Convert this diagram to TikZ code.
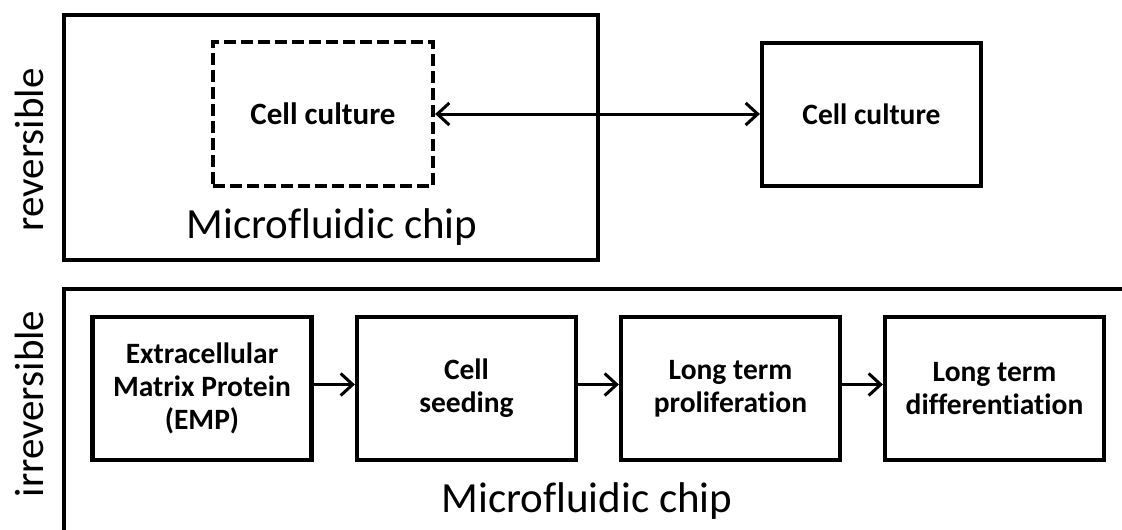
\documentclass[tikz,border=0pt]{standalone}
\usepackage{fontspec}
\setmainfont{Carlito}[Ligatures=NoCommon]
\usetikzlibrary{arrows.meta}
\begin{document}
\begin{tikzpicture}[x=1pt,y=-1pt,
  frame/.style={draw,line width=4.2pt,rectangle,inner sep=0pt},
  box/.style={draw,line width=4.2pt,rectangle,inner sep=0pt,minimum width=219pt,minimum height=143pt,
    align=center,font=\fontsize{29.5}{33}\selectfont\bfseries},
  dbox/.style={box,line width=4.2pt,dash pattern=on 12pt off 5pt,font=\fontsize{31}{34}\selectfont\bfseries},
  big/.style={font=\fontsize{43}{48}\selectfont,inner sep=0pt},
  side/.style={font=\fontsize{41}{45}\selectfont,inner sep=0pt,rotate=90,anchor=base},
  arr/.style={line width=3pt,-{Straight Barb[length=12pt,width=22pt,line width=3pt]}},
  darr/.style={line width=3pt,{Straight Barb[length=12pt,width=22pt,line width=3pt]}-{Straight Barb[length=12pt,width=22pt,line width=3pt]}}
]
\useasboundingbox (0,0) rectangle (1122,530);
% top section
\node[frame,minimum width=533.5pt,minimum height=245pt] (chipA) at (331,137.5) {};
\node[dbox,minimum width=220pt,minimum height=144pt] (inner) at (323,114) {Cell culture};
\node[box] (outer) at (871.5,114.5) {Cell culture};
\node[big,anchor=base] (chipAlbl) at (332,238) {Microfluidic chip};
\node[side] (rev) at (43,150) {reversible};
\draw[darr] (inner.east) -- (inner.east -| outer.west);
% bottom section
\coordinate (fr1) at (1126,289);
\coordinate (fr2) at (64,289);
\coordinate (fr3) at (64,534);
\draw[line width=4.2pt] (fr1) -- (fr2) -- (fr3);
\node[box] (b1) at (202,388.5) {Extracellular\\Matrix Protein\\(EMP)};
\node[box] (b2) at (466.5,388.5) {Cell\\seeding};
\node[box] (b3) at (730.5,388.5) {Long term\\proliferation};
\node[box] (b4) at (994.5,388.5) {Long term\\differentiation};
\node[big,anchor=base] (chipBlbl) at (587,512) {Microfluidic chip};
\node[side] (irr) at (43,404) {irreversible};
\draw[arr] ([yshift=4pt]b1.east) -- ([yshift=4pt]b2.west);
\draw[arr] ([yshift=4pt]b2.east) -- ([yshift=4pt]b3.west);
\draw[arr] ([yshift=4pt]b3.east) -- ([yshift=4pt]b4.west);
\end{tikzpicture}
\end{document}
